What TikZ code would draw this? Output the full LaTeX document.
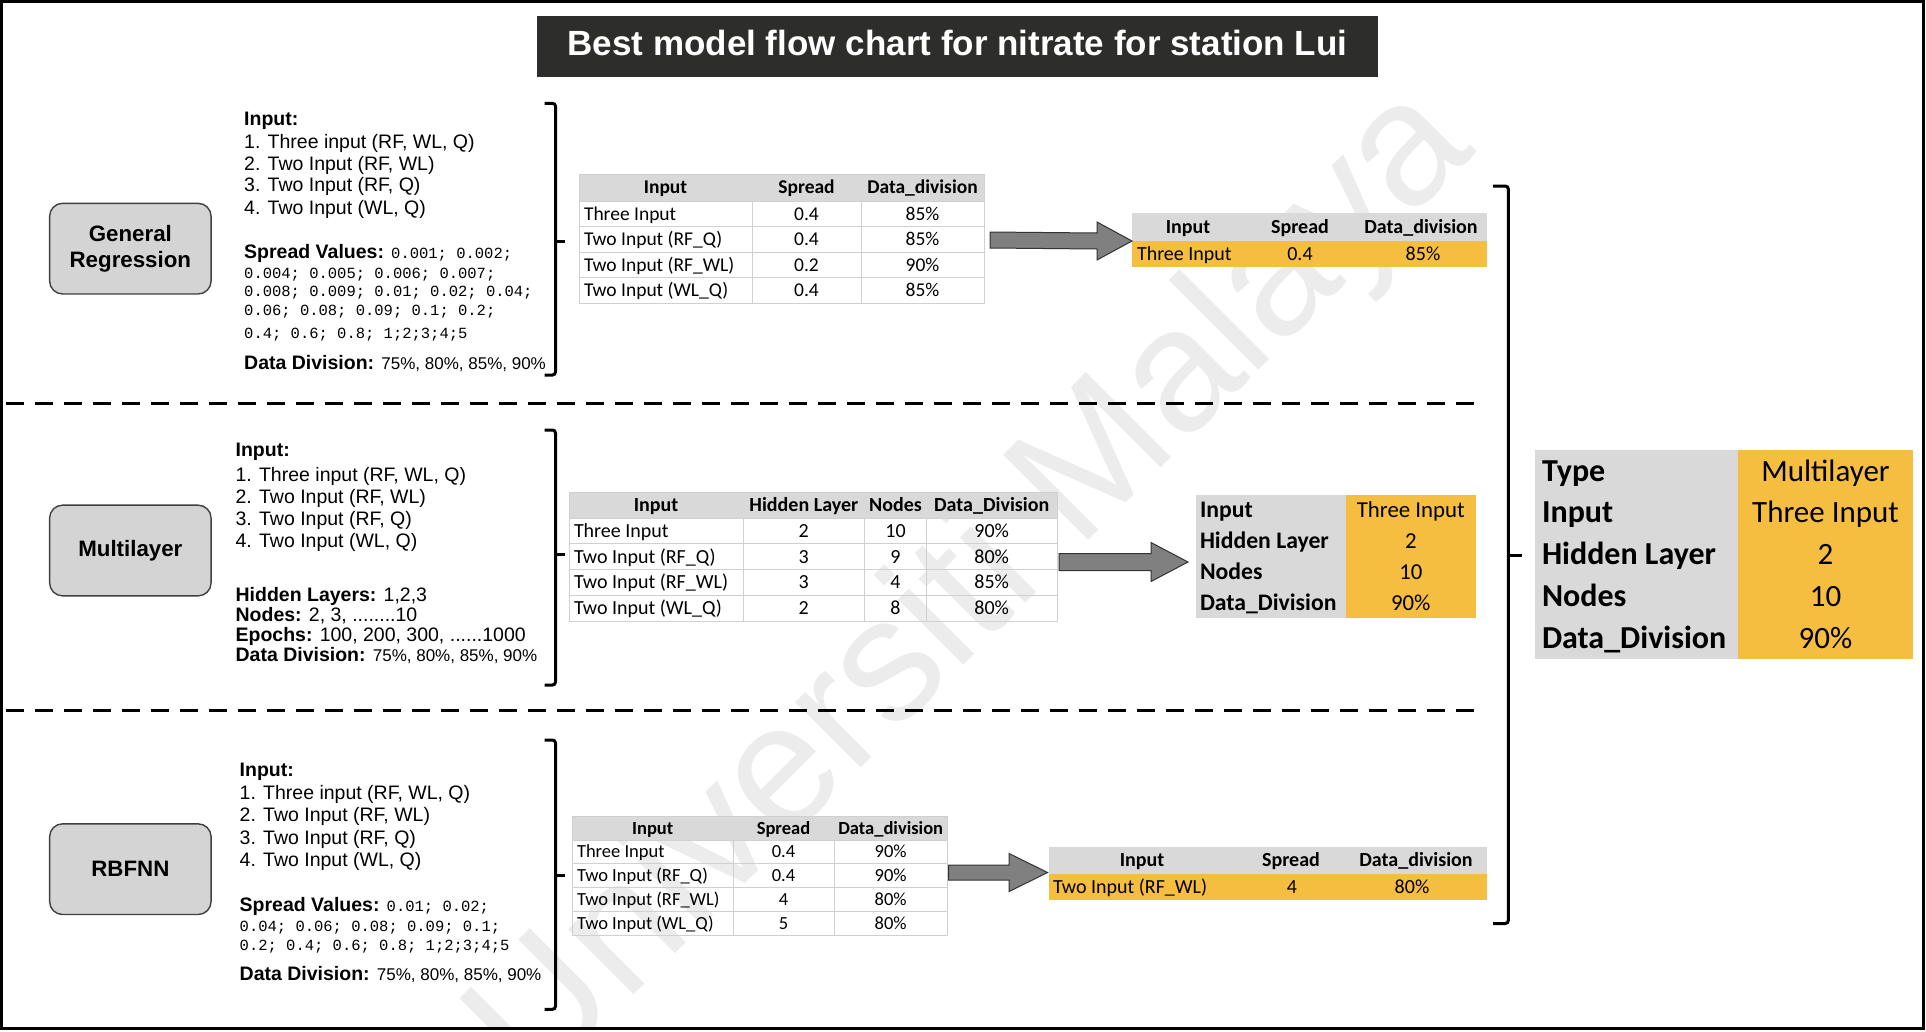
\documentclass[tikz,border=0pt]{standalone}
\usepackage{fontspec}
\setmainfont{Liberation Sans}
\newfontfamily\calib{Carlito}
\newfontfamily\mono{Liberation Mono}
\usetikzlibrary{calc}

\definecolor{hdrgray}{RGB}{217,217,217}
\definecolor{gridgray}{RGB}{208,208,208}
\definecolor{gold}{RGB}{246,190,64}
\definecolor{boxgray}{RGB}{212,212,212}
\definecolor{titlebg}{RGB}{45,45,43}
\definecolor{arrowgray}{RGB}{128,128,128}
\definecolor{wmgray}{RGB}{236,236,236}

\newcommand\fsz[1]{\fontsize{#1}{#1}\selectfont}

\begin{document}
\begin{tikzpicture}[x=1pt,y=-1pt,
  every node/.style={inner sep=0pt,outer sep=0pt},
  ptxt/.style={anchor=base west,font=\fsz{19.5}},
  mtxt/.style={anchor=base west,font=\mono\fsz{15.5}},
  mbox/.style={draw=black!75,fill=boxgray,line width=1.4pt,rounded corners=13pt,
    minimum width=161.5pt,minimum height=90.7pt,align=center,
    font=\bfseries\fontsize{22.3}{26.6}\selectfont},
  brk/.style={line width=3pt,rounded corners=3pt},
  grid/.style={draw=gridgray,line width=0.9pt},
  barrow/.style={fill=arrowgray,draw=black!80,line width=1pt,line join=miter},
  tA/.style={font=\calib\fsz{19.5},anchor=base},
  tB/.style={font=\calib\fsz{20},anchor=base},
  tC/.style={font=\calib\fsz{18.5},anchor=base},
]
\useasboundingbox (0,0) rectangle (1926,1031);
\fill[white] (0,0) rectangle (1926,1031);

% faint repository watermark, behind everything
\begin{scope}
\clip (3,3) rectangle (1922,1027);
\node[rotate=45,text=wmgray,font=\fsz{175}] (wm) at (975,590) {Universiti Malaya};
\end{scope}

% outer frame and title
\draw[line width=3pt] (1.5,1.5) rectangle (1923.5,1028.5);
\node[fill=titlebg,minimum width=841pt,minimum height=61pt,text=white,
  font=\bfseries\fsz{35},text height=17pt,text depth=0pt] (title) at (957.5,46.5)
  {Best model flow chart for nitrate for station Lui};

% section separators
\draw[line width=3pt,dash pattern=on 18pt off 11pt] (6,403.6) -- (1482,403.6);
\draw[line width=3pt,dash pattern=on 18pt off 11pt] (6,710) -- (1482,710);

% ---------- General Regression ----------
\node[mbox] (gr) at (130.35,248.65) {General\\Regression};
\node[ptxt] (gr-in) at (244.2,125) {\bfseries Input:};
\node[ptxt] (gr-i1) at (244.2,148.3) {1. Three input (RF, WL, Q)};
\node[ptxt] (gr-i2) at (244.2,170) {2. Two Input (RF, WL)};
\node[ptxt] (gr-i3) at (244.2,191.7) {3. Two Input (RF, Q)};
\node[ptxt] (gr-i4) at (244.2,214) {4. Two Input (WL, Q)};
\node[ptxt] (gr-sv) at (244.2,258.3) {\textbf{Spread Values:} {\mono\fsz{15.5}0.001; 0.002;}};
\node[mtxt] (gr-s1) at (244.2,278.3) {0.004; 0.005; 0.006; 0.007;};
\node[mtxt] (gr-s2) at (244.2,296.7) {0.008; 0.009; 0.01; 0.02; 0.04;};
\node[mtxt] (gr-s3) at (244.2,315.7) {0.06; 0.08; 0.09; 0.1; 0.2;};
\node[mtxt] (gr-s4) at (244.2,338.3) {0.4; 0.6; 0.8; 1;2;3;4;5};
\node[ptxt] (gr-dd) at (244.2,369.3) {\textbf{Data Division:} {\fsz{17}75\%, 80\%, 85\%, 90\%}};
\draw[brk] (544.5,103.3) -- (555.5,103.3) -- (555.5,375) -- (544.5,375);
\draw[brk] (555.5,241) -- (565,241);

% candidate table
\node[minimum width=405pt,minimum height=129pt] (t1) at (781.5,238.5) {};
\fill[hdrgray] (579,174) rectangle (984,201);
\foreach \yy in {201,226.5,252,277.5} \draw[grid] (579,\yy) -- (984,\yy);
\foreach \xx in {752,861} \draw[grid] (\xx,201) -- (\xx,303);
\draw[grid] (579,174) rectangle (984,303);
\node[tA,font=\calib\bfseries\fsz{19.5}] (t1h1) at (665.5,193.8) {Input};
\node[tA,font=\calib\bfseries\fsz{19.5}] (t1h2) at (806.5,193.8) {Spread};
\node[tA,font=\calib\bfseries\fsz{19.5}] (t1h3) at (922.5,193.8) {Data\_division};
\foreach \a/\b/\c [count=\i] in {Three Input/0.4/85,Two Input (RF\_Q)/0.4/85,Two Input (RF\_WL)/0.2/90,Two Input (WL\_Q)/0.4/85}{
  \pgfmathsetmacro\yb{201+25.5*(\i-1)+12.75+6.3}
  \node[tA,anchor=base west] (t1r\i-a) at (584,\yb) {\a};
  \node[tA] (t1r\i-b) at (806.5,\yb) {\b};
  \node[tA] (t1r\i-c) at (922.5,\yb) {\c\%};
}

% selected row
\node[minimum width=355pt,minimum height=54pt] (r1) at (1309.5,240) {};
\fill[hdrgray] (1132,213) rectangle (1487,241);
\fill[gold] (1132,241) rectangle (1487,267);
\node[tB,font=\calib\bfseries\fsz{20}] (r1h1) at (1188,233.4) {Input};
\node[tB,font=\calib\bfseries\fsz{20}] (r1h2) at (1300,233.4) {Spread};
\node[tB,font=\calib\bfseries\fsz{20}] (r1h3) at (1421,233.4) {Data\_division};
\node[tB,anchor=base west] (r1v1) at (1137,260.4) {Three Input};
\node[tB] (r1v2) at (1300,260.4) {0.4};
\node[tB] (r1v3) at (1423,260.4) {85\%};

\coordinate (a1s) at ([xshift=6pt]t1.east |- r1.west);
\coordinate (a1e) at ([yshift=-1pt]r1.west);
\draw[barrow] ([yshift=8pt]a1s) -- ([xshift=-35pt,yshift=8pt]a1e) -- ([xshift=-35pt,yshift=19pt]a1e)
  -- (a1e) -- ([xshift=-35pt,yshift=-19pt]a1e) -- ([xshift=-35pt,yshift=-8pt]a1e) -- ([yshift=-8pt]a1s) -- cycle;

% ---------- Multilayer ----------
\node[mbox] (ml) at (130.35,550.5) {Multilayer};
\node[ptxt] (ml-in) at (235.6,456.7) {\bfseries Input:};
\node[ptxt] (ml-i1) at (235.6,481.7) {1. Three input (RF, WL, Q)};
\node[ptxt] (ml-i2) at (235.6,503.7) {2. Two Input (RF, WL)};
\node[ptxt] (ml-i3) at (235.6,525.7) {3. Two Input (RF, Q)};
\node[ptxt] (ml-i4) at (235.6,547.7) {4. Two Input (WL, Q)};
\node[ptxt] (ml-hl) at (235.6,601.7) {\textbf{Hidden Layers:} 1,2,3};
\node[ptxt] (ml-nd) at (235.6,621.7) {\textbf{Nodes:} 2, 3, ........10};
\node[ptxt] (ml-ep) at (235.6,641.7) {\textbf{Epochs:} 100, 200, 300, ......1000};
\node[ptxt] (ml-dd) at (235.6,661.7) {\textbf{Data Division:} {\fsz{17}75\%, 80\%, 85\%, 90\%}};
\draw[brk] (544.5,430) -- (555.5,430) -- (555.5,685) -- (544.5,685);
\draw[brk] (555.5,554) -- (565,554);

\node[minimum width=488pt,minimum height=129pt] (t2) at (813,556.5) {};
\fill[hdrgray] (569,492) rectangle (1057,518);
\foreach \yy in {518,543.75,569.5,595.25} \draw[grid] (569,\yy) -- (1057,\yy);
\foreach \xx in {743,864.6,926.4} \draw[grid] (\xx,518) -- (\xx,621);
\draw[grid] (569,492) rectangle (1057,621);
\node[tB,font=\calib\bfseries\fsz{20}] (t2h1) at (656,511.4) {Input};
\node[tB,font=\calib\bfseries\fsz{20}] (t2h2) at (803.8,511.4) {Hidden Layer};
\node[tB,font=\calib\bfseries\fsz{20}] (t2h3) at (895.5,511.4) {Nodes};
\node[tB,font=\calib\bfseries\fsz{20}] (t2h4) at (991.7,511.4) {Data\_Division};
\foreach \a/\b/\c/\d [count=\i] in {Three Input/2/10/90,Two Input (RF\_Q)/3/9/80,Two Input (RF\_WL)/3/4/85,Two Input (WL\_Q)/2/8/80}{
  \pgfmathsetmacro\yb{518+25.75*(\i-1)+12.875+6.4}
  \node[tB,anchor=base west] (t2r\i-a) at (574,\yb) {\a};
  \node[tB] (t2r\i-b) at (803.8,\yb) {\b};
  \node[tB] (t2r\i-c) at (895.5,\yb) {\c};
  \node[tB] (t2r\i-d) at (991.7,\yb) {\d\%};
}

\node[minimum width=280.5pt,minimum height=123.2pt] (r2) at (1335.75,556.4) {};
\fill[hdrgray] (1195.5,494.8) rectangle (1345.5,618);
\fill[gold] (1345.5,494.8) rectangle (1476,618);
\foreach \l/\v [count=\i] in {Input/Three Input,Hidden Layer/2,Nodes/10,Data\_Division/90\%}{
  \pgfmathsetmacro\yb{494.8+30.8*(\i-1)+15.4+7.6}
  \node[anchor=base west,font=\calib\bfseries\fsz{23.7}] (r2l\i) at (1200,\yb) {\l};
  \node[anchor=base,font=\calib\fsz{22.8}] (r2v\i) at (1410.8,\yb) {\v};
}

\coordinate (a2s) at ([xshift=2pt,yshift=-5.6pt]t2.east |- r2.west);
\coordinate (a2e) at ([xshift=-7.5pt,yshift=-5.6pt]r2.west);
\draw[barrow] ([yshift=8.5pt]a2s) -- ([xshift=-37pt,yshift=8.5pt]a2e) -- ([xshift=-37pt,yshift=19.5pt]a2e)
  -- (a2e) -- ([xshift=-37pt,yshift=-19.5pt]a2e) -- ([xshift=-37pt,yshift=-8.5pt]a2e) -- ([yshift=-8.5pt]a2s) -- cycle;

% ---------- RBFNN ----------
\node[mbox] (rb) at (130.35,869.15) {RBFNN};
\node[ptxt] (rb-in) at (239.7,776.7) {\bfseries Input:};
\node[ptxt] (rb-i1) at (239.7,799) {1. Three input (RF, WL, Q)};
\node[ptxt] (rb-i2) at (239.7,821.7) {2. Two Input (RF, WL)};
\node[ptxt] (rb-i3) at (239.7,844.3) {3. Two Input (RF, Q)};
\node[ptxt] (rb-i4) at (239.7,866.7) {4. Two Input (WL, Q)};
\node[ptxt] (rb-sv) at (239.7,911.7) {\textbf{Spread Values:} {\mono\fsz{15.5}0.01; 0.02;}};
\node[mtxt] (rb-s1) at (239.7,931.7) {0.04; 0.06; 0.08; 0.09; 0.1;};
\node[mtxt] (rb-s2) at (239.7,950.5) {0.2; 0.4; 0.6; 0.8; 1;2;3;4;5};
\node[ptxt] (rb-dd) at (239.7,980) {\textbf{Data Division:} {\fsz{17}75\%, 80\%, 85\%, 90\%}};
\draw[brk] (544.5,740) -- (555.5,740) -- (555.5,1009.3) -- (544.5,1009.3);
\draw[brk] (555.5,875) -- (565,875);

\node[minimum width=375pt,minimum height=119pt] (t3) at (760,875.5) {};
\fill[hdrgray] (572.5,816) rectangle (947.5,840);
\foreach \yy in {840,863.75,887.5,911.25} \draw[grid] (572.5,\yy) -- (947.5,\yy);
\foreach \xx in {733,834} \draw[grid] (\xx,840) -- (\xx,935);
\draw[grid] (572.5,816) rectangle (947.5,935);
\node[tC,font=\calib\bfseries\fsz{18.5}] (t3h1) at (652.7,834) {Input};
\node[tC,font=\calib\bfseries\fsz{18.5}] (t3h2) at (783.5,834) {Spread};
\node[tC,font=\calib\bfseries\fsz{18.5}] (t3h3) at (890.7,834) {Data\_division};
\foreach \a/\b/\c [count=\i] in {Three Input/0.4/90,Two Input (RF\_Q)/0.4/90,Two Input (RF\_WL)/4/80,Two Input (WL\_Q)/5/80}{
  \pgfmathsetmacro\yb{840+23.75*(\i-1)+11.875+6}
  \node[tC,anchor=base west] (t3r\i-a) at (577,\yb) {\a};
  \node[tC] (t3r\i-b) at (783.5,\yb) {\b};
  \node[tC] (t3r\i-c) at (890.7,\yb) {\c\%};
}

\node[minimum width=438pt,minimum height=54pt] (r3) at (1268,873.5) {};
\fill[hdrgray] (1049,846.5) rectangle (1487,873.6);
\fill[gold] (1049,873.6) rectangle (1487,900.4);
\node[tB,font=\calib\bfseries\fsz{20}] (r3h1) at (1142,866.4) {Input};
\node[tB,font=\calib\bfseries\fsz{20}] (r3h2) at (1291,866.4) {Spread};
\node[tB,font=\calib\bfseries\fsz{20}] (r3h3) at (1416,866.4) {Data\_division};
\node[tB,anchor=base west] (r3v1) at (1053,893.4) {Two Input (RF\_WL)};
\node[tB] (r3v2) at (1292,893.4) {4};
\node[tB] (r3v3) at (1412,893.4) {80\%};

\coordinate (a3s) at ([xshift=1.2pt,yshift=1pt]t3.east |- r3.west);
\coordinate (a3e) at ([xshift=-1.4pt,yshift=1pt]r3.west);
\draw[barrow] ([yshift=7.5pt]a3s) -- ([xshift=-38.5pt,yshift=7.5pt]a3e) -- ([xshift=-38.5pt,yshift=19pt]a3e)
  -- (a3e) -- ([xshift=-38.5pt,yshift=-19pt]a3e) -- ([xshift=-38.5pt,yshift=-7.5pt]a3e) -- ([yshift=-7.5pt]a3s) -- cycle;

% ---------- overall best model ----------
\draw[brk] (1493,186) -- (1508.3,186) -- (1508.3,923.5) -- (1493,923.5);
\draw[brk] (1508.3,555.7) -- (1521.7,555.7);

\node[minimum width=378pt,minimum height=208.6pt] (best) at (1724,554.3) {};
\fill[hdrgray] (1535,450) rectangle (1738,658.6);
\fill[gold] (1738,450) rectangle (1913,658.6);
\foreach \l/\v [count=\i] in {Type/Multilayer,Input/Three Input,Hidden Layer/2,Nodes/10,Data\_Division/90\%}{
  \pgfmathsetmacro\yb{450+41.72*(\i-1)+20.86+10.3}
  \node[anchor=base west,font=\calib\bfseries\fsz{32}] (bl\i) at (1542,\yb) {\l};
  \node[anchor=base,font=\calib\fsz{31}] (bv\i) at (1825.5,\yb) {\v};
}
\end{tikzpicture}
\end{document}
